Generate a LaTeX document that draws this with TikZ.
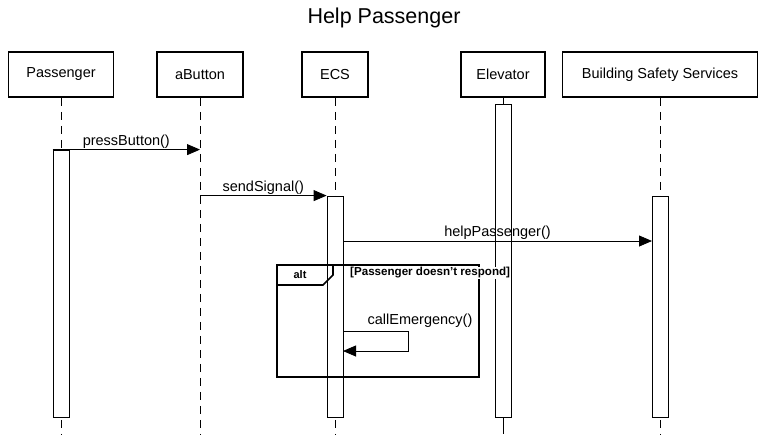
\documentclass[tikz,border=0pt]{standalone}
\usepackage{fontspec}
\setmainfont{Liberation Sans}
\usetikzlibrary{arrows.meta,positioning}

\begin{document}
\begin{tikzpicture}[x=1pt,y=-1pt,
	actor/.style={draw,line width=1.6pt,minimum height=45pt,inner sep=0pt,font=\fontsize{14.5}{17}\selectfont},
	bar/.style={draw,fill=white,minimum width=16pt,inner sep=0pt,line width=0.8pt},
	life/.style={dash pattern=on 8pt off 6pt,line width=0.8pt},
	msg/.style={-{Triangle[length=13pt,width=11pt]},line width=0.8pt},
	lbl/.style={font=\fontsize{14.5}{17}\selectfont,inner sep=1pt}]
		\useasboundingbox (0,0) rectangle (765,434);
		\node[font=\fontsize{21.5}{25}\selectfont] (title) at (384,18) {Help Passenger};
		% participants
		\node[actor,minimum width=105pt] (pass) at (61,74.5) {Passenger};
		\node[actor,minimum width=86pt] (btn) at (200,74.5) {aButton};
		\node[actor,minimum width=66pt] (ecs) at (335,74.5) {ECS};
		\node[actor,minimum width=84pt] (elev) at (503,74.5) {Elevator};
		\node[actor,minimum width=195pt] (bss) at (660,74.5) {Building Safety Services};
		% lifelines
		\foreach \p in {pass,btn,ecs,bss} {
			\coordinate (\p end) at (\p.center |- 0,434);
			\draw[life] (\p.south) -- (\p end);
		}
		\coordinate (elev end) at (elev.center |- 0,434);
		\draw[line width=0.8pt] (elev.south) -- (elev end);
		% activation bars
		\node[bar,minimum height=267pt] (passbar) at (61,283.5) {};
		\node[bar,minimum height=221pt] (ecsbar) at (335,306.5) {};
		\node[bar,minimum height=313pt] (elevbar) at (503,260.5) {};
		\node[bar,minimum height=221pt] (bssbar) at (660,306.5) {};
		% messages
		\coordinate (btnhit) at (btn.center |- passbar.north);
		\draw[msg] (passbar.north west) -- node[lbl,above] {pressButton()} (btnhit);
		\coordinate (btnout) at (btn.center |- ecsbar.north);
		\draw[msg] (btnout) -- node[lbl,above] {sendSignal()} (ecsbar.north west);
		\coordinate (ecsout) at (343,241);
		\coordinate (bsshit) at (652,241);
		\draw[msg] (ecsout) -- node[lbl,above,pos=0.5] {helpPassenger()} (bsshit);
		% alt frame
		\draw[line width=1.6pt] (277,265) rectangle (479,377);
		\draw[line width=1.6pt] (277,285) -- (323,285) -- (333,275) -- (333,265);
		\node[font=\bfseries\fontsize{11}{13}\selectfont] (alt) at (300,275) {alt};
		\node[font=\bfseries\fontsize{11.6}{13}\selectfont,fill=white,anchor=west,inner sep=1pt] (guard) at (349,273) {[Passenger doesn't respond]};
		% self call
		\coordinate (selfa) at (343,331);
		\coordinate (selfb) at (408,331);
		\coordinate (selfc) at (408,351);
		\coordinate (selfd) at (343,351);
		\draw[msg] (selfa) -- (selfb) -- (selfc) -- (selfd);
		\node[lbl,above] (calllbl) at (420,329) {callEmergency()};
\end{tikzpicture}
\end{document}
